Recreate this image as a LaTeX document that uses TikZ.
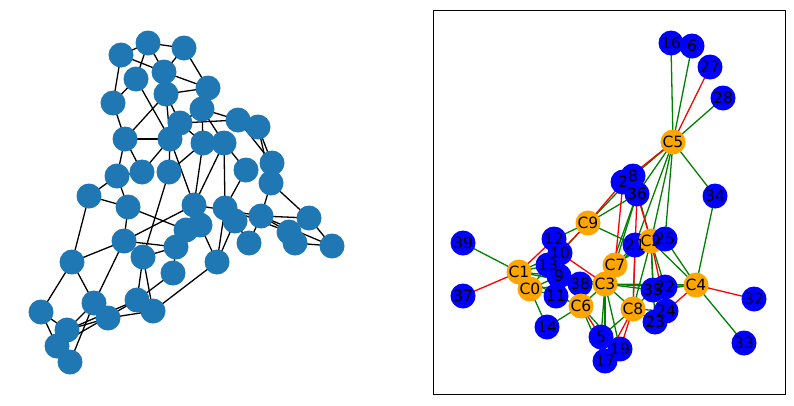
\documentclass[tikz,border=0pt]{standalone}
\usepackage{fontspec}
\setmainfont{DejaVu Sans}
\usepackage{tikz}

\definecolor{tabblue}{HTML}{1F77B4}
\definecolor{mplgreen}{HTML}{008000}
\definecolor{mplorange}{HTML}{FFA500}

\tikzset{
  plain/.style={circle,fill=tabblue,minimum size=25pt,inner sep=0pt},
  member/.style={circle,fill=blue,minimum size=25pt,inner sep=0pt},
  cluster/.style={member,fill=mplorange},
  tag/.style={inner sep=0pt,font=\fontsize{15.5}{15}\selectfont},
  link/.style={line width=1.3pt,black},
  tie/.style={line width=1.3pt,mplgreen},
  cut/.style={line width=1.3pt,red}
}
\pgfdeclarelayer{bg}
\pgfsetlayers{bg,main}

\begin{document}
\begin{tikzpicture}[x=1pt,y=-1pt]
  \useasboundingbox (0,0) rectangle (794,405);

  % left: the raw graph
  \foreach \n/\x/\y in {1/148/43, 2/184/48, 3/121/55, 4/164/72, 5/136/79,
      6/208/88, 7/166/94, 8/113/103, 9/202/109, 10/238/120, 11/258/127,
      12/180/123, 13/125/139, 14/170/139, 15/203/143, 16/224/143,
      17/272/163, 18/246/170, 19/117/176, 20/142/172, 21/169/172,
      22/271/183, 23/89/196, 24/128/207, 25/194/205, 26/225/208,
      27/261/216, 28/309/218, 29/200/225, 30/186/230, 31/235/221,
      32/249/243, 33/289/232, 34/295/243, 35/332/246, 36/124/241,
      37/176/247, 38/143/257, 39/72/262, 40/217/262, 41/173/273,
      42/41/312, 43/94/303, 44/137/300, 45/108/318, 46/153/311,
      47/67/330, 48/57/346, 49/70/362}
    \node[plain] (a\n) at (\x,\y) {};

  \begin{pgfonlayer}{bg}
    \foreach \p/\q in {3/1, 1/2, 3/4, 1/5, 1/4, 2/4, 2/6, 4/6, 7/6, 3/8,
        8/5, 5/14, 7/13, 7/14, 9/10, 8/13, 13/14, 12/10, 9/15, 9/16,
        10/17, 11/17, 16/18, 13/19, 13/20, 14/20, 14/21, 23/19, 19/24,
        14/25, 16/25, 15/25, 18/26, 17/22, 22/28, 22/27, 25/27, 27/28,
        28/35, 27/33, 34/35, 27/35, 23/24, 23/39, 24/36, 24/30, 36/39,
        36/37, 36/25, 38/21, 39/42, 39/43, 36/43, 38/44, 44/41, 46/40,
        45/46, 42/47, 42/48, 47/43, 47/44, 45/47, 48/44, 49/43, 38/37,
        37/41, 40/29, 40/26, 40/31, 6/9, 12/15, 10/11, 15/16, 12/9,
        21/15, 20/19, 26/31, 29/30, 31/32, 32/27, 33/34, 26/16, 11/22,
        43/45, 49/48, 30/37, 38/46, 26/33, 7/12}
      \draw[link] (a\p.center) -- (a\q.center);
  \end{pgfonlayer}

  % right: clusters and members
  \draw[line width=1pt] (433,10) rectangle (785,394);

  \foreach \n/\x/\y in {16/671/43, 6/692/46, 27/710/67, 28/723/98,
      2/623/182, 8/633/176, 36/637/194, 34/715/196, 39/463/243,
      12/554/239, 10/560/253, 13/548/265, 9/559/276, 37/463/296,
      11/556/296, 38/580/284, 21/635/245, 14/547/327, 35/653/290,
      22/665/287, 32/754/299, 23/655/322, 24/666/311, 33/744/343,
      19/620/349, 17/605/361, 5/601/337}
    \node[member] (v\n) at (\x,\y) {};
  \foreach \n/\x/\y in {5/673/142, 9/588/223, 1/519/272, 0/530/289,
      7/615/265, 3/605/284, 6/581/306, 2/651/241, 8/633/309, 4/696/285}
    \node[cluster] (c\n) at (\x,\y) {};
  \node[member] (v25) at (665,239) {};

  % labels go on top of every disc
  \foreach \n in {16,6,27,28,2,8,36,34,39,12,10,13,9,37,11,38,21,14,35,
      22,32,23,24,33,19,17,5,25}
    \node[tag] (t\n) at (v\n) {\n};
  \foreach \n in {0,...,9}
    \node[tag] (tc\n) at (c\n) {C\n};

  \begin{pgfonlayer}{bg}
    % green ties
    \foreach \p/\q in {c5/v16, c5/v6, c5/v28, c5/v34, c5/v8, c5/v36,
        c5/v21, c5/v25, c5/c2, c9/v12, c9/v10, c9/v36, c9/v8, c9/v21,
        c1/v39, c1/v10, c1/v13, c1/v9, c1/v11, c1/v38, c0/v13, c0/v9,
        c0/v11, c0/v14, c0/v38, c3/v38, c3/c7, c3/v9, c3/v35, c3/v22,
        c3/c4, c3/c8, c3/c6, c3/v5, c3/v19, c3/v17, c3/v21, c3/v36,
        c7/v36, c7/v21, c7/c2, c6/v14, c6/v38, c6/v19, c6/v17, c6/v11,
        c8/v5, c8/v35, c8/v24, c8/v23, c8/c2, c8/v21, c2/v25, c2/v21,
        c2/v8, c2/c4, c2/v35, c2/v22, c2/v23, c4/v34, c4/v33, c4/v25,
        c4/v22, c4/v35}
      \draw[tie] (\p.center) -- (\q.center);
    % red cuts
    \foreach \p/\q in {c5/v27, c5/v2, c9/v2, c9/v13, c1/v37, c1/v12,
        c3/v10, c7/v2, c6/v5, c8/v19, c8/v17, c8/v36, c2/v36, c2/v24,
        c4/v32, c4/v24}
      \draw[cut] (\p.center) -- (\q.center);
  \end{pgfonlayer}
\end{tikzpicture}
\end{document}
